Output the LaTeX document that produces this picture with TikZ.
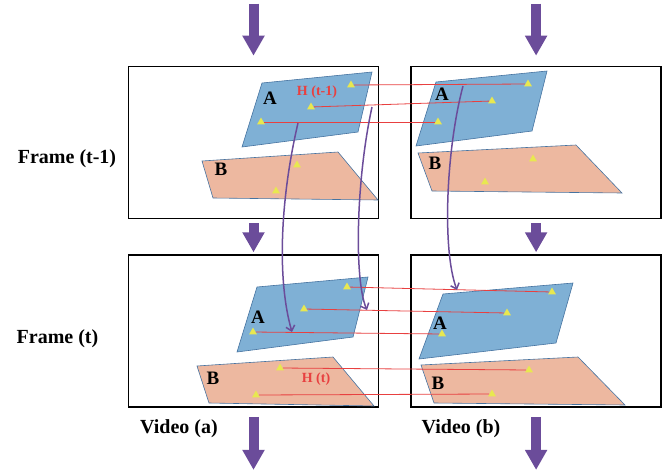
\documentclass[tikz,border=0pt]{standalone}
\usepackage{fontspec}
\setmainfont{Liberation Serif}
\usepackage{tikz}
\usetikzlibrary{arrows.meta,positioning,shapes.geometric}

\definecolor{flowpurple}{RGB}{107,76,154}
\definecolor{partblue}{RGB}{127,176,213}
\definecolor{partedge}{RGB}{70,115,160}
\definecolor{partsalmon}{RGB}{237,184,160}
\definecolor{matchred}{RGB}{232,64,64}
\definecolor{kpyellow}{RGB}{232,232,80}

\begin{document}
\begin{tikzpicture}[x=1pt, y=-1pt, node distance=31pt,
    frame/.style={draw, line width=1.6pt, minimum width=250pt, minimum height=152pt, inner sep=0pt},
    partA/.style={fill=partblue, draw=partedge, line width=0.6pt},
    partB/.style={fill=partsalmon, draw=partedge, line width=0.6pt},
    kp/.style={regular polygon, regular polygon sides=3, fill=kpyellow, minimum size=9pt, inner sep=0pt},
    match/.style={draw=matchred, line width=0.8pt},
    flow/.style={draw=flowpurple, line width=1.5pt, -{Straight Barb[length=5pt,width=9pt]}},
    bigarrow/.style={draw=flowpurple, line width=10pt, -{Triangle[length=20pt,width=21pt]}},
    side/.style={font=\bfseries\fontsize{20}{24}\selectfont, anchor=base},
    part/.style={font=\bfseries\fontsize{19}{22}\selectfont, inner sep=0pt},
    hom/.style={font=\bfseries\fontsize{14}{17}\selectfont, text=matchred, inner sep=0pt}]
		\useasboundingbox (0,0) rectangle (665,472);

		\node[frame] (prevLeft) at (253.5,142.5) {};
		\node[frame, right=of prevLeft] (prevRight) {};
		\node[frame, below=35pt of prevLeft] (curLeft) {};
		\node[frame, below=35pt of prevRight] (curRight) {};

		% Regions
		\draw[partA] (262,83) -- (372,72) -- (358,132) -- (242,147) -- cycle;
		\draw[partB] (202,161) -- (338,152) -- (378,200) -- (213,198) -- cycle;
		\draw[partA] (436,82) -- (547,71) -- (532,131) -- (416,146) -- cycle;
		\draw[partB] (418,153) -- (576,145) -- (622,193) -- (432,191) -- cycle;
		\draw[partA] (257,287) -- (368,277) -- (353,337) -- (237,352) -- cycle;
		\draw[partB] (197,366) -- (333,357) -- (374,406) -- (209,403) -- cycle;
		\draw[partA] (443,294) -- (573,283) -- (556,343) -- (419,359) -- cycle;
		\draw[partB] (421,365) -- (578,357) -- (625,405) -- (434,403) -- cycle;

		\node[part] (tlA) at (270,98) {A};
		\node[part] (tlB) at (221,169) {B};
		\node[part] (trA) at (442,94) {A};
		\node[part] (trB) at (435,163) {B};
		\node[part] (blA) at (258,317) {A};
		\node[part] (blB) at (213,378) {B};
		\node[part] (brA) at (440,323) {A};
		\node[part] (brB) at (438,383) {B};
		\node[hom] (homPrev) at (317,92) {H (t-1)};
		\node[hom] (homCur) at (316,379) {H (t)};

		% Key points
		\node[kp] (tl1) at (351,85) {};
		\node[kp] (tl2) at (311,107) {};
		\node[kp] (tl3) at (261,122) {};
		\node[kp] (tl4) at (297,165) {};
		\node[kp] (tl5) at (276,191) {};
		\node[kp] (tr1) at (528,84) {};
		\node[kp] (tr2) at (492,101) {};
		\node[kp] (tr3) at (438,122) {};
		\node[kp] (tr4) at (533,159) {};
		\node[kp] (tr5) at (485,182) {};
		\node[kp] (bl1) at (347,287) {};
		\node[kp] (bl2) at (304,309) {};
		\node[kp] (bl3) at (253,332) {};
		\node[kp] (bl4) at (280,368) {};
		\node[kp] (bl5) at (256,395) {};
		\node[kp] (br1) at (552,292) {};
		\node[kp] (br2) at (507,313) {};
		\node[kp] (br3) at (442,334) {};
		\node[kp] (br4) at (529,370) {};
		\node[kp] (br5) at (492,394) {};

		% Matches
		\draw[match] (tl1) -- (tr1);
		\draw[match] (tl2) -- (tr2);
		\draw[match] (tl3) -- (tr3);
		\draw[match] (bl1) -- (br1);
		\draw[match] (bl2) -- (br2);
		\draw[match] (bl3) -- (br3);
		\draw[match] (bl4) -- (br4);
		\draw[match] (bl5) -- (br5);

		% Flow between frames
		\coordinate (flowStart1) at (298,123);
		\coordinate (flowEnd1) at (292,332);
		\coordinate (flowStart2) at (372,107);
		\coordinate (flowEnd2) at (367,310);
		\coordinate (flowStart3) at (463,86);
		\coordinate (flowEnd3) at (457,290);
		\draw[flow] (flowStart1) .. controls (280,200) and (277,280) .. (flowEnd1);
		\draw[flow] (flowStart2) .. controls (356,180) and (354,280) .. (flowEnd2);
		\draw[flow] (flowStart3) .. controls (446,150) and (442,250) .. (flowEnd3);

		\node[side] (framePrev) at (67,163) {Frame (t-1)};
		\node[side] (frameCur) at (57.5,343) {Frame (t)};
		\node[side] (videoA) at (179,433) {Video (a)};
		\node[side] (videoB) at (461,433) {Video (b)};

		% Arrows
		\coordinate[above=62pt of prevLeft.north] (inLeft);
		\coordinate[above=62pt of prevRight.north] (inRight);
		\coordinate[below=62pt of curLeft.south] (outLeft);
		\coordinate[below=62pt of curRight.south] (outRight);
		\draw[bigarrow, shorten >=10pt] (inLeft) -- (prevLeft.north);
		\draw[bigarrow, shorten >=10pt] (inRight) -- (prevRight.north);
		\draw[bigarrow, shorten <=4pt, shorten >=2pt] (prevLeft.south) -- (curLeft.north);
		\draw[bigarrow, shorten <=4pt, shorten >=2pt] (prevRight.south) -- (curRight.north);
		\draw[bigarrow, shorten <=9pt] (curLeft.south) -- (outLeft);
		\draw[bigarrow, shorten <=9pt] (curRight.south) -- (outRight);
	\end{tikzpicture}
\end{document}
